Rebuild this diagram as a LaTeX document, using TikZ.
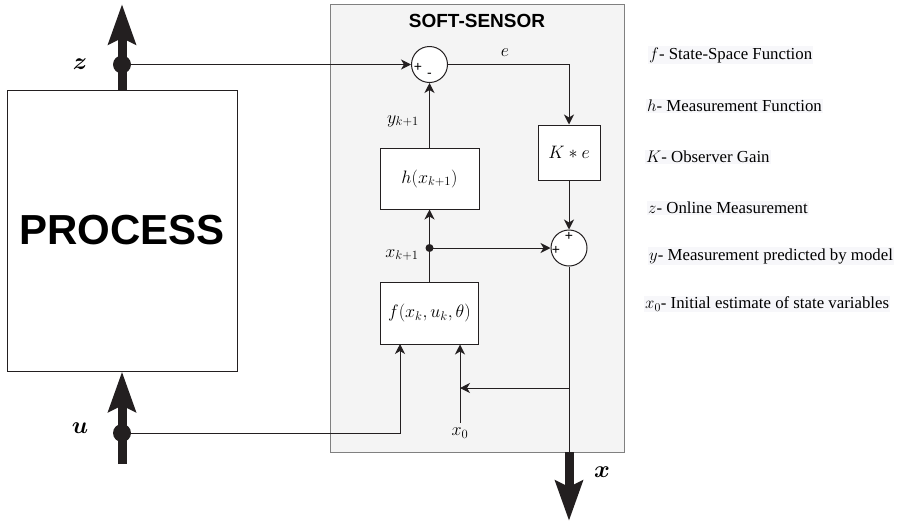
\RequirePackage{fix-cm}
\documentclass[tikz,border=0pt]{standalone}
\usepackage{amsmath}
\usepackage{bm}
\usepackage{fontspec}
\newfontfamily\helv{Liberation Sans}
\newfontfamily\legfont{Liberation Serif}
\usetikzlibrary{arrows.meta,calc}
\definecolor{lin}{RGB}{35,31,32}
\definecolor{ssfill}{RGB}{244,244,244}
\definecolor{ssdraw}{RGB}{128,128,128}
\definecolor{legbg}{RGB}{247,247,250}
\begin{document}
\begin{tikzpicture}[x=1pt,y=-1pt,
  wire/.style={line width=1pt, draw=lin},
  arr/.style={wire, -{Stealth[length=10pt,width=10pt,inset=3pt]}},
  bigarr/.style={line width=9pt, draw=lin, -{Stealth[length=40pt,width=27pt,inset=6pt]}},
  blk/.style={draw=lin, line width=1pt, fill=white, inner sep=0pt},
  sumc/.style={circle, draw=lin, line width=1pt, fill=white, minimum size=36pt, inner sep=0pt},
  bigdot/.style={circle, fill=lin, minimum size=18pt, inner sep=0pt},
  smalldot/.style={circle, fill=lin, minimum size=8pt, inner sep=0pt},
  mtxt/.style={font=\fontsize{18}{20}\selectfont, inner sep=0pt},
  sgn/.style={font=\helv\fontsize{14}{15}\selectfont, inner sep=0pt},
  lbl/.style={font=\fontsize{24}{26}\selectfont, inner sep=0pt},
  leg/.style={font=\legfont\fontsize{16.8}{19}\selectfont, anchor=west, fill=legbg, inner sep=1pt},
]
\useasboundingbox (0,0) rectangle (903,528);

% soft-sensor container
\node[draw=ssdraw, fill=ssfill, line width=1pt, minimum width=294pt, minimum height=448pt, inner sep=0pt] (ss) at (477,228) {};
\node[font=\helv\bfseries\fontsize{19}{22}\selectfont, inner sep=0pt] (sstitle) at (477,21) {SOFT-SENSOR};

% process
\node[blk, minimum width=230pt, minimum height=281pt, font=\helv\bfseries\fontsize{42}{46}\selectfont] (process) at (122,230.5) {PROCESS};

% blocks
\node[sumc] (sum1) at (429.5,64.5) {};
\node[sumc] (sum2) at (569,248) {};
\node[blk, minimum width=62pt, minimum height=55pt, mtxt] (kbox) at (569,152.5) {$K*e$};
\node[blk, minimum width=99pt, minimum height=61pt, mtxt] (hbox) at (429.5,178.5) {$h(x_{k+1})$};
\node[blk, minimum width=98pt, minimum height=62pt, mtxt] (fbox) at (429.5,313) {$f(x_k,u_k,\theta)$};

% signs
\node[sgn] (s1p) at (418,67) {+};
\node[sgn] (s1m) at (429.5,75) {-};
\node[sgn] (s2t) at (569,236) {+};
\node[sgn] (s2l) at (556,250) {+};

% coordinates
\coordinate (ztop) at (122,4);
\coordinate (ubot) at (122,464);
\coordinate (xout) at (569,452);
\coordinate (xend) at (569,521);
\coordinate (fb1) at (569,388);
\coordinate (fb2) at (460,388);
\coordinate (x0s) at (460,423);
\coordinate (uin) at (400,344);

% thick arrows
\draw[bigarr] (process.north) -- (ztop);
\draw[bigarr] (ubot) -- (process.south);
\node[bigdot] (zdot) at (122,64.5) {};
\node[bigdot] (udot) at (122,433) {};
\node[lbl] (zlbl) at (80,64.5) {$\bm{z}$};
\node[lbl] (ulbl) at (80,428) {$\bm{u}$};

% signal lines
\draw[arr] (zdot) -- (sum1.west);
\draw[arr] (sum1.east) -| (kbox.north);
\node[mtxt] (elbl) at (505,53) {$e$};
\draw[arr] (kbox.south) -- (sum2.north);
\draw[arr] (hbox.north) -- (sum1.south);
\node[mtxt] (ylbl) at (403,121) {$y_{k+1}$};
\node[smalldot] (xdot) at (429.5,248) {};
\draw[wire] (fbox.north) -- (xdot.center);
\draw[arr] (xdot.center) -- (hbox.south);
\draw[arr] (xdot.center) -- (sum2.west);
\node[mtxt] (xklbl) at (402,255) {$x_{k+1}$};
\draw[wire] (sum2.south) -- (xout);
\draw[arr] (fb1) -- (fb2);
\draw[arr] (x0s) -- (x0s |- fbox.south);
\node[mtxt] (x0lbl) at (460,433) {$x_0$};
\draw[arr] (udot) -| (uin);
\draw[bigarr] (xout) -- (xend);
\node[lbl] (xlbl) at (602,472) {$\bm{x}$};

% legend
\node[leg] (l1) at (648,55) {$f$- State-Space Function};
\node[leg] (l2) at (646,106) {$h$- Measurement Function};
\node[leg] (l3) at (645,157) {$K$- Observer Gain};
\node[leg] (l4) at (647,208) {$z$- Online Measurement};
\node[leg] (l5) at (648,256) {$y$- Measurement predicted by model};
\node[leg] (l6) at (644,304) {$x_0$- Initial estimate of state variables};
\end{tikzpicture}
\end{document}
